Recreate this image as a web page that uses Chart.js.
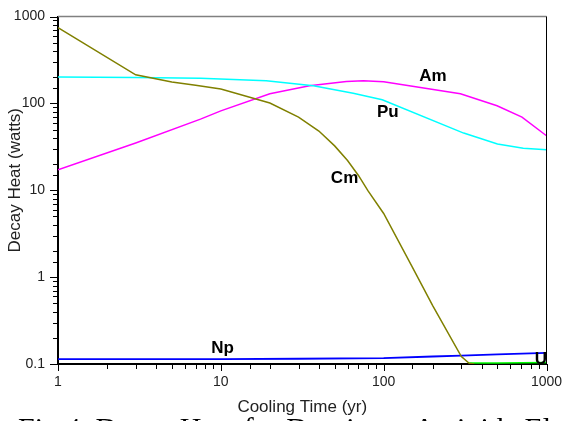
<!DOCTYPE html>
<html><head><meta charset="utf-8">
<script src="https://cdn.jsdelivr.net/npm/chart.js@4"></script>
<style>html,body{margin:0;padding:0;background:#fff;overflow:hidden}#wrap{position:relative;width:563px;height:421px}</style>
</head><body><div id="wrap"><canvas id="c" width="563" height="421"></canvas></div>
<script>
// ---- data (cooling time in years, decay heat in watts) ----
const cmX = [1, 3, 5, 7, 10, 20, 30, 40, 50, 60, 70, 80, 100, 150, 200, 300, 335, 360];
const cmY = [743, 213, 176, 162, 146, 101, 69.5, 48, 32.4, 22, 14.8, 9.9, 5.4, 1.3, 0.47, 0.122, 0.102, 0.1];
const puX = [1, 3, 7.5, 19, 37, 65, 98, 310, 500, 720, 1000];
const puY = [201, 199, 194, 182, 160, 131, 110, 45.5, 34, 30.5, 29.2];
const amX = [1, 3, 7.5, 10, 20, 35, 59, 75, 100, 296, 497, 707, 1000];
const amY = [17.2, 35, 65.9, 82, 129, 160, 179, 182, 177, 129, 94, 69.5, 42.4];
const npX = [1, 10, 30, 100, 200, 300, 500, 1000];
const npY = [0.114, 0.114, 0.115, 0.117, 0.122, 0.125, 0.129, 0.134];
const uX = [335, 500, 700, 1000];
const uY = [0.1025, 0.103, 0.1035, 0.104];

const seriesNames = ['Cm', 'Pu', 'Am', 'Np', 'U'];
const seriesColors = ['#808000', '#00FFFF', '#FF00FF', '#0000FF', '#00FF00'];
const labelX = [47.4, 91, 165.5, 8.72, 846];
const labelY = [12.1, 69.5, 182, 0.135, 0.1];

const xTickVals = [1, 10, 100, 1000];
const xTickLabels = ['1', '10', '100', '1000'];
const yTickVals = [0.1, 1, 10, 100, 1000];
const yTickLabels = ['0.1', '1', '10', '100', '1000'];

const xTitle = 'Cooling Time (yr)';
const yTitle = 'Decay Heat (watts)';
const caption = 'Fig 4. Decay Heat for Dominant Actinide Elements';

// ---- build ----
const pairs = (xs, ys) => xs.map((v, i) => ({x: v, y: ys[i]}));
const seriesXs = [cmX, puX, amX, npX, uX];
const seriesYs = [cmY, puY, amY, npY, uY];
const isPow10 = v => Math.abs(Math.log10(v) - Math.round(Math.log10(v))) < 1e-6;
const lookup = (vals, labels, v) => {
  for (let i = 0; i < vals.length; i++) if (Math.abs(Math.log10(vals[i]) - Math.log10(v)) < 1e-6) return labels[i];
  return '';
};

const deco = {
  id: 'deco',
  afterDatasetsDraw(chart) {
    const {ctx, chartArea: a, scales: {x, y}} = chart;
    ctx.save();
    // top & right frame
    ctx.strokeStyle = '#808080'; ctx.lineWidth = 1.5;
    ctx.beginPath(); ctx.moveTo(a.left, a.top); ctx.lineTo(a.right, a.top); ctx.stroke();
    ctx.strokeStyle = '#000'; ctx.lineWidth = 1;
    ctx.beginPath(); ctx.moveTo(a.right, a.top); ctx.lineTo(a.right, a.bottom); ctx.stroke();
    // ticks
    ctx.lineWidth = 1; ctx.strokeStyle = '#000';
    x.ticks.forEach(t => {
      const px = Math.round(x.getPixelForValue(t.value)) + 0.5;
      const len = isPow10(t.value) ? 7 : 5;
      ctx.beginPath(); ctx.moveTo(px, a.bottom); ctx.lineTo(px, a.bottom + len); ctx.stroke();
    });
    y.ticks.forEach(t => {
      const py = Math.round(y.getPixelForValue(t.value)) + 0.5;
      const len = isPow10(t.value) ? 8 : 5;
      ctx.beginPath(); ctx.moveTo(a.left, py); ctx.lineTo(a.left - len, py); ctx.stroke();
    });
    // series labels
    ctx.fillStyle = '#000';
    ctx.font = 'bold 17px "Liberation Sans", Arial, sans-serif';
    ctx.textAlign = 'left'; ctx.textBaseline = 'alphabetic';
    seriesNames.forEach((n, i) => {
      ctx.fillText(n, x.getPixelForValue(labelX[i]), y.getPixelForValue(labelY[i]));
    });
    ctx.restore();
  },
  afterDraw(chart) {
    const {ctx, chartArea: a} = chart;
    ctx.save();
    ctx.fillStyle = '#222';
    ctx.font = '17px "Liberation Sans", Arial, sans-serif';
    ctx.translate(15, (a.top + a.bottom) / 2 - 10);
    ctx.rotate(-Math.PI / 2);
    ctx.textAlign = 'center'; ctx.textBaseline = 'middle';
    ctx.fillText(yTitle, 0, 0);
    ctx.restore();
    ctx.save();
    ctx.fillStyle = '#000';
    ctx.font = '30px "Liberation Serif", "Times New Roman", serif';
    ctx.textAlign = 'left'; ctx.textBaseline = 'alphabetic';
    ctx.fillText(caption, 18, 438);
    ctx.restore();
  }
};

new Chart(document.getElementById('c'), {
  type: 'scatter',
  data: {
    datasets: seriesNames.map((n, i) => ({
      label: n,
      data: pairs(seriesXs[i], seriesYs[i]),
      showLine: true,
      borderColor: seriesColors[i],
      backgroundColor: seriesColors[i],
      borderWidth: i === 3 ? 1.8 : 1.5,
      pointRadius: 0,
      tension: 0,
      fill: false
    }))
  },
  options: {
    responsive: false,
    animation: false,
    devicePixelRatio: 1,
    layout: {padding: {left: 0, top: 16.5, right: 16.5, bottom: 3}},
    plugins: {legend: {display: false}, tooltip: {enabled: false}, title: {display: false}},
    scales: {
      x: {
        type: 'logarithmic', min: 1, max: 1000,
        afterFit: s => { s.height = 54; s.paddingLeft = 0; s.paddingRight = 0; },
        grid: {display: false, drawTicks: false},
        border: {display: true, color: '#000', width: 2},
        ticks: {
          autoSkip: false, maxRotation: 0, padding: 10,
          color: '#222', font: {family: '"Liberation Sans", Arial, sans-serif', size: 14},
          callback: v => lookup(xTickVals, xTickLabels, v)
        },
        title: {display: true, text: xTitle, color: '#222', padding: {top: 0, bottom: 0},
          font: {family: '"Liberation Sans", Arial, sans-serif', size: 17}}
      },
      y: {
        type: 'logarithmic', min: 0.1, max: 1000,
        afterFit: s => { s.width = 58; s.paddingTop = 0; s.paddingBottom = 0; },
        grid: {display: false, drawTicks: false},
        border: {display: true, color: '#000', width: 2},
        ticks: {
          autoSkip: false, padding: 13,
          color: '#222', font: {family: '"Liberation Sans", Arial, sans-serif', size: 14},
          callback: v => lookup(yTickVals, yTickLabels, v)
        }
      }
    }
  },
  plugins: [deco]
});
</script>
</body></html>
